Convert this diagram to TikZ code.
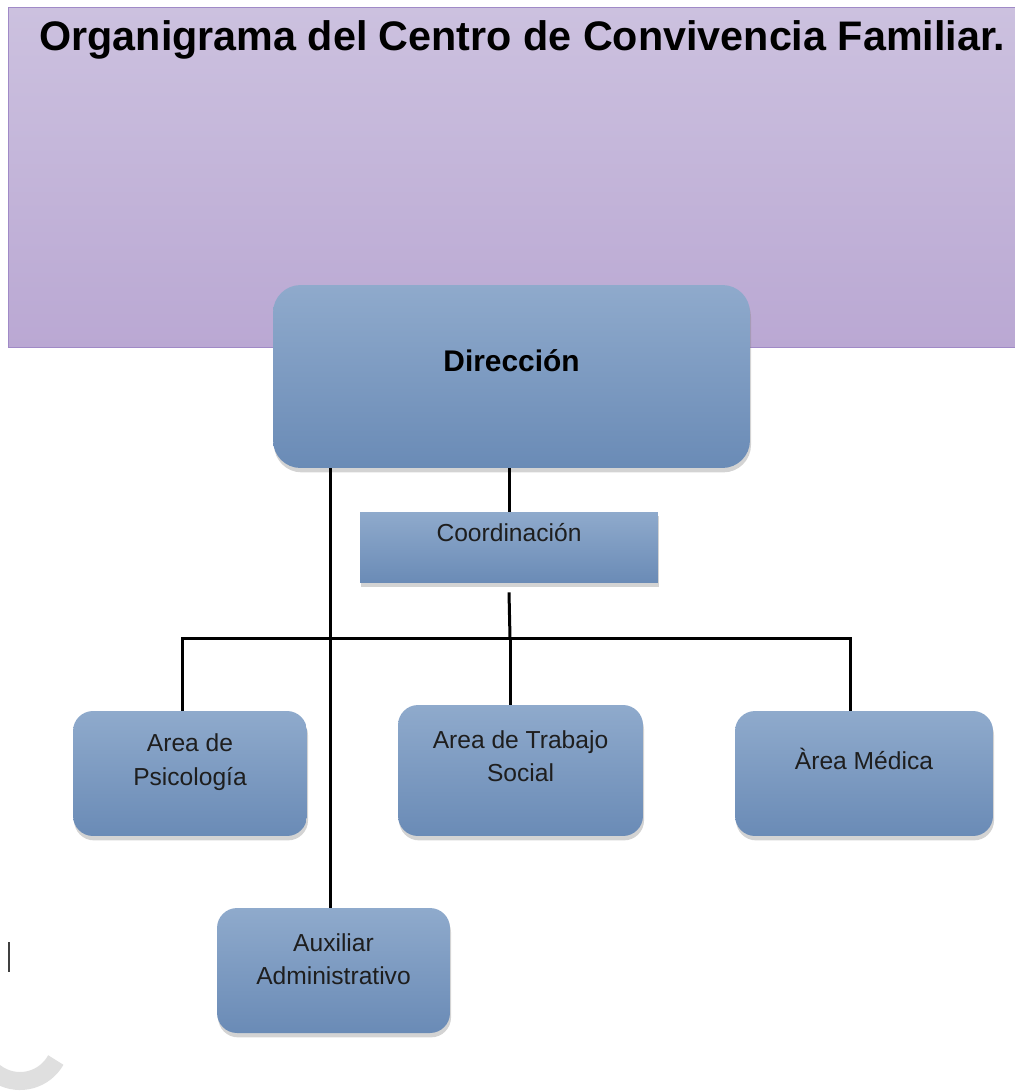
\documentclass[tikz,border=0pt]{standalone}
\usepackage{fontspec}
\setmainfont{Liberation Sans}
\usepackage{tikz}
\usetikzlibrary{calc,shadows}
\definecolor{lilactop}{RGB}{ 204, 193, 223 }
\definecolor{lilacbottom}{RGB}{ 186, 168, 211 }
\definecolor{lilacline}{RGB}{ 160, 138, 199 }
\definecolor{steeltop}{RGB}{ 143, 170, 204 }
\definecolor{steelbottom}{RGB}{ 106, 139, 182 }
\definecolor{inkgray}{RGB}{ 30, 30, 30 }

\begin{document}
\begin{tikzpicture}[x=0.02cm,y=-0.02cm,font=\fontsize{14}{19}\selectfont,every label/.style={align=center,text=inkgray,inner sep=0}]
\tikzstyle{area box}=[rectangle,rounded corners=0.4cm,top color=steeltop,bottom color=steelbottom,draw=none,inner sep=0,drop shadow={shadow xshift=0.6pt,shadow yshift=-2.5pt,opacity=0.35}]
\tikzstyle{link}=[line width=0.06cm,black]

\useasboundingbox (0,0) rectangle (1014,1091);

% title panel
\node(panel)[rectangle,anchor=north west,minimum width=20.3cm,minimum height=6.8cm,inner sep=0,
  top color=lilactop,bottom color=lilacbottom,draw=lilacline,line width=0.6pt,
  label={[anchor=north,xshift=0.13cm,yshift=-0.26cm,text=black,font=\fontsize{23.5}{28}\selectfont\bfseries]north:{Organigrama del Centro de Convivencia Familiar.}}] at (8,7) {};

\node(dir)[area box,rounded corners=0.55cm,minimum width=9.54cm,minimum height=3.66cm,
  label={[yshift=0.32cm,text=black,font=\fontsize{17}{20}\selectfont\bfseries]center:Dirección}] at (511.5,376.5) {};
\node(coord)[area box,rounded corners=0,minimum width=5.96cm,minimum height=1.42cm,
  label={[yshift=0.29cm]center:Coordinación}] at (509,547.5) {};

\node(psi)[area box,minimum width=4.68cm,minimum height=2.5cm,
  label={[yshift=0.23cm]center:{Area de\\Psicología}}] at (190,773.5) {};
\node(ts)[area box,minimum width=4.9cm,minimum height=2.62cm,
  label={[yshift=0.28cm]center:{Area de Trabajo\\Social}}] at (520.5,770.5) {};
\node(med)[area box,minimum width=5.16cm,minimum height=2.5cm,
  label={[yshift=0.29cm]center:{Àrea Médica}}] at (864,773.5) {};
\node(aux)[area box,minimum width=4.66cm,minimum height=2.5cm,
  label={[yshift=0.22cm]center:{Auxiliar\\Administrativo}}] at (333.5,970.5) {};

% lines
\coordinate(bus) at (510,638);
\draw[link] (coord.north) -- (coord.north |- dir.south);
\draw[link] ($(aux.north)+(-3,0)$) -- ($(aux.north |- dir.south)+(-3,0)$);
\draw[link] ($(coord.south)+(0,9)$) -- (bus);
\draw[link] ($(psi.north)+(-8,0)$) |- (bus) -| ($(med.north)+(-14,0)$);
\draw[link] (bus) -- (bus |- ts.north);

% stray marks
\draw[black!75,line width=0.04cm] (9,942) -- (9,972);
\draw[gray!25,line width=0.36cm] (55.8,1060) arc[start angle=29.2,end angle=170,radius=41];
\end{tikzpicture}
\end{document}
